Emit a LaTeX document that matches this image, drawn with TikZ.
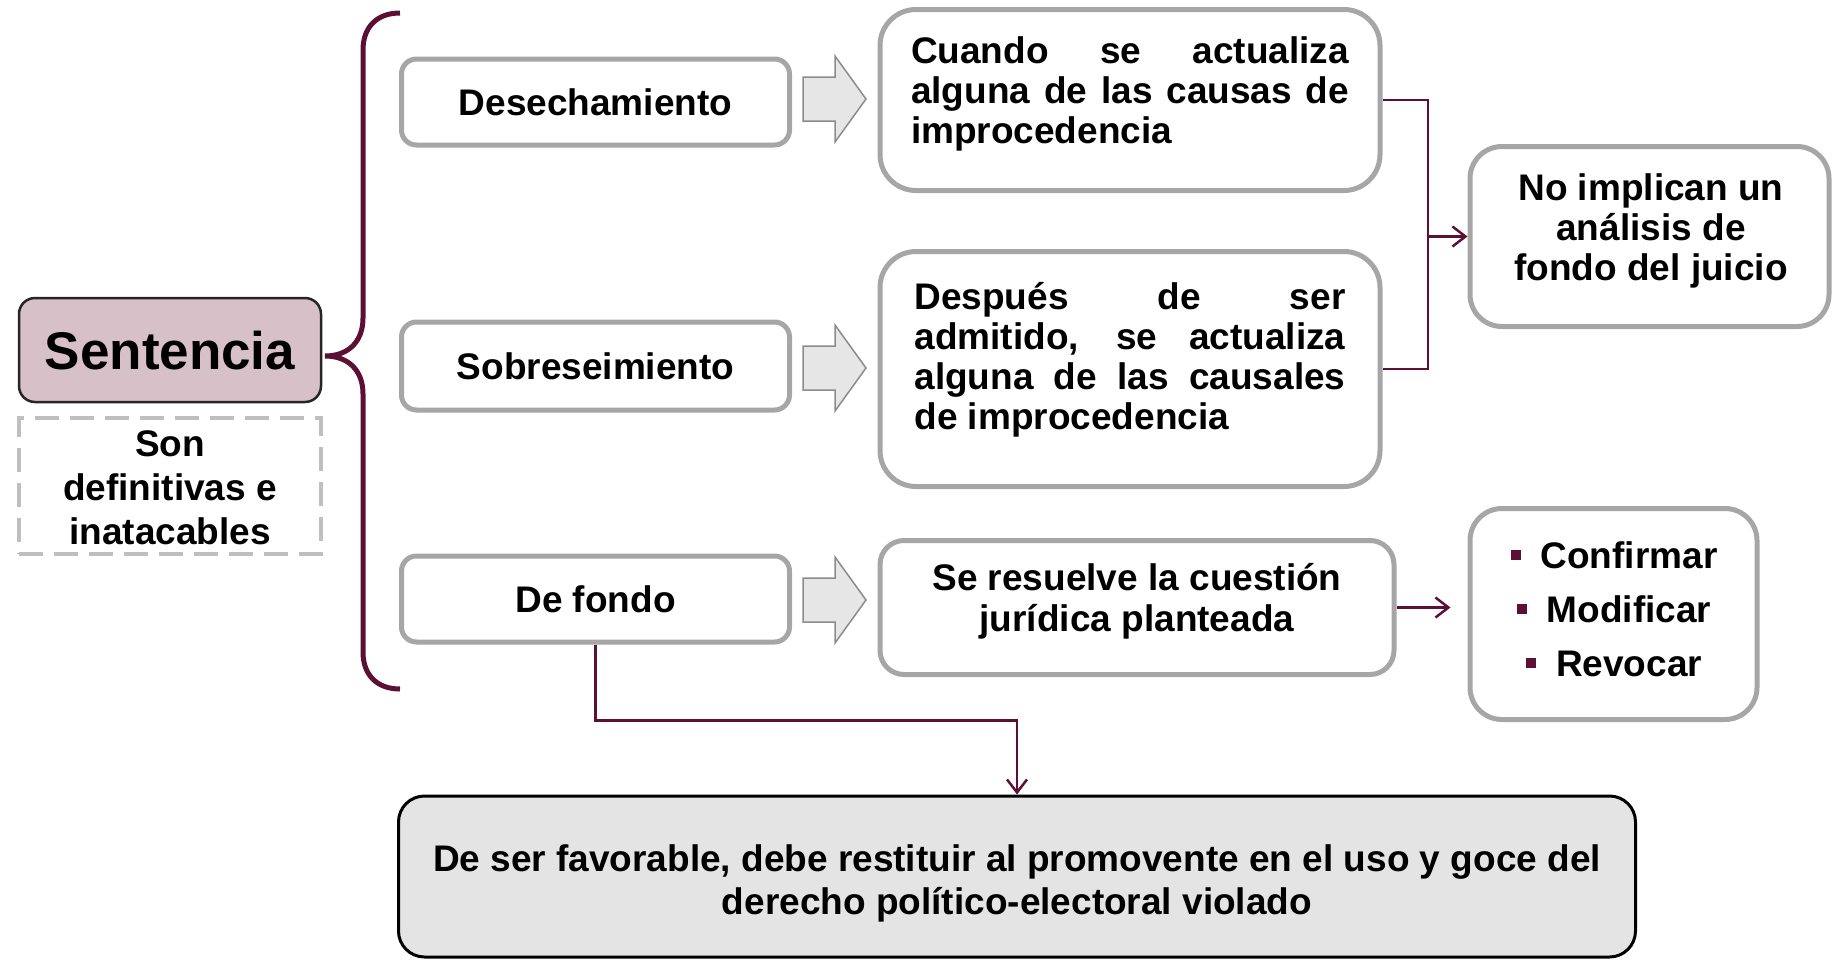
\documentclass[tikz,border=0pt]{standalone}
\usepackage{fontspec}
\setmainfont{Liberation Sans}
\usetikzlibrary{arrows.meta,calc}
\definecolor{mymaroon}{HTML}{5C1035}
\definecolor{bordergray}{HTML}{A6A6A6}
\definecolor{dashgray}{HTML}{BFBFBF}
\definecolor{sentfill}{HTML}{D8C0C9}
\definecolor{arrowfill}{HTML}{E6E6E6}
\definecolor{arrowline}{HTML}{8C8C8C}
\definecolor{bottomfill}{HTML}{E4E4E4}
\tikzset{
  graybox/.style={draw=bordergray, line width=5pt, rounded corners=#1, fill=white, inner sep=0pt},
  graybox/.default=32pt,
  txt/.style={font=\bfseries\fontsize{37}{40}\selectfont, inner sep=0pt},
  conn/.style={draw=mymaroon, line width=2.5pt},
  tip/.style={-{Straight Barb[length=13pt,width=20pt,line width=2.5pt]}},
  blockarrow/.style={draw=arrowline, line width=1.5pt, fill=arrowfill}
}
\newcommand{\mybul}{\textcolor{mymaroon}{\rule[8pt]{10pt}{10pt}}\hspace{20pt}}
\begin{document}
\begin{tikzpicture}[x=1pt,y=-1pt]
\useasboundingbox (0,0) rectangle (1832,959);

% left column
\node[draw=black!85, line width=2.5pt, fill=sentfill, rounded corners=16pt, minimum width=302pt, minimum height=104pt, inner sep=0pt] (sent) at (170,350) {};
\node[txt, font=\bfseries\fontsize{53}{56}\selectfont] (sentt) at (170,351) {Sentencia};
\node[draw=dashgray, line width=4.5pt, dash pattern=on 24pt off 11pt, minimum width=302pt, minimum height=136pt, inner sep=0pt] (dash) at (170,486) {};
\node[txt, font=\bfseries\fontsize{37}{44}\selectfont, align=center] (dasht) at (170,488) {Son\\definitivas e\\inatacables};

% brace
\draw[mymaroon, line width=5pt] (400,13) .. controls (377,13) and (363,27) .. (363,50) -- (363,318) .. controls (363,342) and (348,356) .. (325,356) .. controls (348,356) and (363,370) .. (363,394) -- (363,652) .. controls (363,675) and (377,689) .. (400,689);

% type boxes
\node[graybox=15pt, minimum width=388pt, minimum height=86pt, txt] (des) at (595.5,102) {Desechamiento};
\node[graybox=15pt, minimum width=388pt, minimum height=88pt, txt] (sob) at (595.5,366) {Sobreseimiento};
\node[graybox=15pt, minimum width=388pt, minimum height=86pt, txt] (fondo) at (595.5,599) {De fondo};

% block arrows
\foreach \c in {99,368,600}{
  \draw[blockarrow] (803,\c-22) -- (835,\c-22) -- (835,\c-43) -- (866,\c) -- (835,\c+43) -- (835,\c+22) -- (803,\c+22) -- cycle;
}

% description boxes
\node[graybox=36pt, minimum width=500pt, minimum height=181pt] (A) at (1130,100) {};
\node[txt, text width=438pt, align=justify] (At) at (1130,93.5) {Cuando se actualiza\linebreak alguna de las causas de\linebreak improcedencia};
\node[graybox=36pt, minimum width=500pt, minimum height=235pt] (B) at (1130,369) {};
\node[txt, text width=431pt, align=justify] (Bt) at (1130,359.5) {Después de ser\linebreak admitido, se actualiza\linebreak alguna de las causales\linebreak de improcedencia};
\node[graybox=24pt, minimum width=514pt, minimum height=134pt] (C) at (1137,607.5) {};
\node[txt, font=\bfseries\fontsize{37}{41}\selectfont, align=center] (Ct) at (1137,601) {Se resuelve la cuestión\\jurídica planteada};
\node[graybox=32pt, minimum width=359pt, minimum height=180pt] (D) at (1649.5,236.5) {};
\node[txt, align=center] (Dt) at (1651,231) {No implican un\\análisis de\\fondo del juicio};
\node[graybox=32pt, minimum width=287pt, minimum height=211pt] (E) at (1613.5,614) {};
\node[txt, font=\bfseries\fontsize{37}{54}\selectfont, align=center] (Et) at (1614,609) {\mybul Confirmar\\\mybul Modificar\\\mybul Revocar};

% bottom box
\node[draw=black, line width=3pt, fill=bottomfill, rounded corners=26pt, minimum width=1237pt, minimum height=161pt, inner sep=0pt] (F) at (1017,876.5) {};
\node[txt, font=\bfseries\fontsize{37}{43}\selectfont, align=center] (Ft) at (1017,883.5) {De ser favorable, debe restituir al promovente en el uso y goce del\\derecho político-electoral violado};

% connectors
\coordinate (j1) at (1428,100);
\draw[conn] (A.east) -- (j1) |- (B.east);
\draw[conn, tip] (j1 |- D.west) -- (D.west);
\draw[conn, tip, shorten >=17pt] (C.east) -- (C.east -| E.west);
\draw[conn, tip] (fondo.south) -- ++(0,76) -| (F.north);
\end{tikzpicture}
\end{document}
